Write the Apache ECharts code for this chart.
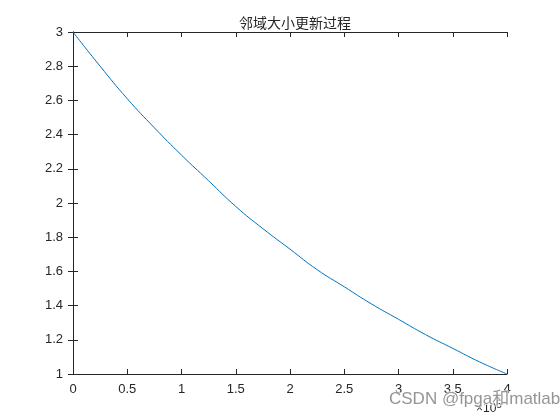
<!DOCTYPE html>
<html>
<head>
<meta charset="utf-8">
<script src="https://cdn.jsdelivr.net/npm/echarts@6/dist/echarts.min.js"></script>
<style>html,body{margin:0;padding:0;background:#fff;}#c{width:560px;height:420px;}</style>
</head>
<body>
<div id="c"></div>
<script>
const titleText = '邻域大小更新过程';
const xValues = [0, 25000, 50000, 75000, 100000, 125000, 150000, 175000, 200000, 225000, 250000, 275000, 300000, 325000, 350000, 375000, 400000];
const yValues = [3.00, 2.80, 2.61, 2.44, 2.28, 2.13, 1.98, 1.85, 1.73, 1.61, 1.51, 1.41, 1.32, 1.23, 1.15, 1.07, 1.00];
const xTickLabels = ['0', '0.5', '1', '1.5', '2', '2.5', '3', '3.5', '4'];
const yTickLabels = ['1', '1.2', '1.4', '1.6', '1.8', '2', '2.2', '2.4', '2.6', '2.8', '3'];
const watermark = 'CSDN @fpga和matlab';

const chart = echarts.init(document.getElementById('c'));
const axisLine = {show: true, lineStyle: {color: '#262626', width: 1}};
const tick = {show: true, inside: true, length: 5, lineStyle: {color: '#262626'}};
const lbl = {color: '#262626', fontFamily: 'Liberation Sans, Arial', fontSize: 13};
const data = xValues.map((x, i) => [x, yValues[i]]);
chart.setOption({
  animation: false,
  title: {text: titleText, left: 290, top: 11, textAlign: 'center',
    textStyle: {fontFamily: 'Noto Sans CJK SC', fontWeight: 'normal', fontSize: 14, color: '#262626'}},
  grid: {left: 73, right: 53, top: 32, bottom: 46},
  xAxis: [
    {type: 'value', min: 0, max: 400000, interval: 50000, position: 'bottom',
     axisLine, axisTick: tick, splitLine: {show: false},
     axisLabel: Object.assign({}, lbl, {margin: 9, formatter: v => xTickLabels[Math.round(v / 50000)]})},
    {type: 'value', min: 0, max: 400000, interval: 50000, position: 'top',
     axisLine, axisTick: tick, splitLine: {show: false}, axisLabel: {show: false}}
  ],
  yAxis: [
    {type: 'value', min: 1, max: 3, interval: 0.2, position: 'left',
     axisLine, axisTick: tick, splitLine: {show: false},
     axisLabel: Object.assign({}, lbl, {margin: 10, formatter: v => yTickLabels[Math.round((v - 1) / 0.2)]})},
    {type: 'value', min: 1, max: 3, interval: 0.2, position: 'right',
     axisLine, axisTick: tick, splitLine: {show: false}, axisLabel: {show: false}}
  ],
  series: [{type: 'line', data: data, showSymbol: false, smooth: true,
    lineStyle: {color: '#0072BD', width: 1}}],
  graphic: [
    {type: 'text', left: 476, top: 400, z: 10,
     style: {text: '{a|×10}{b|5}', rich: {
       a: {fontFamily: 'Liberation Sans, Arial', fontSize: 12, fill: '#262626'},
       b: {fontFamily: 'Liberation Sans, Arial', fontSize: 10, fill: '#262626', verticalAlign: 'top', padding: [0,0,8,0]}}}},
    {type: 'text', left: 388, top: 390, z: 20,
     style: {text: watermark, fontFamily: 'Liberation Sans, Noto Sans CJK SC', fontSize: 17,
       fill: 'rgba(130,130,130,0.85)', stroke: 'rgba(255,255,255,0.7)', lineWidth: 2}}
  ]
});
</script>
</body>
</html>
